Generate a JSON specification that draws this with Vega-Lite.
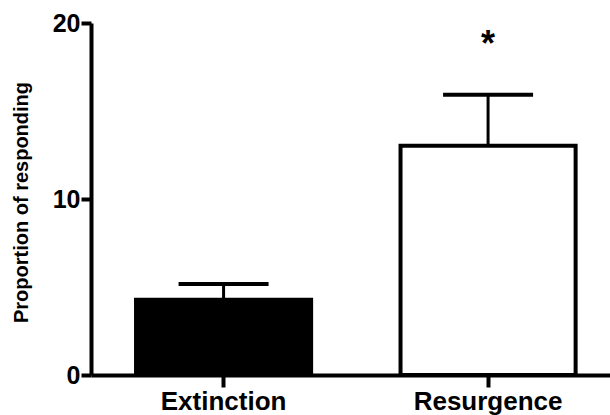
{
  "$schema": "https://vega.github.io/schema/vega-lite/v6.json",
  "width": 520,
  "height": 352,
  "autosize": {"type": "none"},
  "padding": {"left": 91, "top": 23, "right": 0, "bottom": 40},
  "background": "white",
  "config": {
    "view": {"stroke": null},
    "font": "Liberation Sans",
    "axis": {"domainColor": "#000000", "domainWidth": 4, "tickColor": "#000000", "tickWidth": 4, "ticks": true, "domain": true, "grid": false, "zindex": 1}
  },
  "data": {
    "values": [
      {"group": "Extinction", "mean": 4.28, "upper": 5.17, "star": ""},
      {"group": "Resurgence", "mean": 13.02, "upper": 15.93, "star": "*"}
    ]
  },
  "layer": [
    {
      "mark": {"type": "bar", "stroke": "black", "strokeWidth": 4, "strokeJoin": "miter"},
      "encoding": {
        "x": {
          "field": "group", "type": "nominal", "sort": null,
          "scale": {"paddingInner": 0.338, "paddingOuter": 0.152, "align": 0.56},
          "axis": {"zindex": 1, "title": null, "grid": false, "domainColor": "#000000", "domainWidth": 4, "tickColor": "#000000", "tickWidth": 4, "tickSize": 12, "labelAngle": 0, "labelFont": "Liberation Sans", "labelFontWeight": "bold", "labelColor": "#000000", "labelFontSize": 26, "labelPadding": 1}
        },
        "y": {
          "field": "mean", "type": "quantitative",
          "scale": {"domain": [0, 20], "nice": false},
          "axis": {"zindex": 1, "values": [0, 10, 20], "title": "Proportion of responding", "grid": false, "domainColor": "#000000", "domainWidth": 4, "tickColor": "#000000", "tickWidth": 4, "tickSize": 10, "labelFont": "Liberation Sans", "labelFontWeight": "bold", "labelColor": "#000000", "labelFontSize": 25, "labelPadding": 1, "titleFont": "Liberation Sans", "titleFontWeight": "bold", "titleColor": "#000000", "titleFontSize": 20, "titleAngle": -90, "titleAlign": "center", "titleBaseline": "alphabetic", "titleX": -64, "titleY": 179}
        },
        "fill": {
          "field": "group", "type": "nominal",
          "scale": {"domain": ["Extinction", "Resurgence"], "range": ["black", "white"]},
          "legend": null
        }
      }
    },
    {
      "mark": {"type": "rule", "stroke": "black", "strokeWidth": 3},
      "encoding": {
        "x": {"field": "group", "type": "nominal", "sort": null},
        "y": {"field": "mean", "type": "quantitative"},
        "y2": {"field": "upper"}
      }
    },
    {
      "mark": {"type": "rule", "stroke": "black", "strokeWidth": 4, "xOffset": -45, "x2Offset": 45},
      "encoding": {
        "x": {"field": "group", "type": "nominal", "sort": null},
        "x2": {"field": "group"},
        "y": {"field": "upper", "type": "quantitative"}
      }
    },
    {
      "mark": {"type": "text", "fontSize": 36, "fontWeight": "bold", "color": "black", "baseline": "alphabetic", "dy": -39},
      "encoding": {
        "x": {"field": "group", "type": "nominal", "sort": null},
        "y": {"field": "upper", "type": "quantitative"},
        "text": {"field": "star"}
      }
    }
  ]
}
